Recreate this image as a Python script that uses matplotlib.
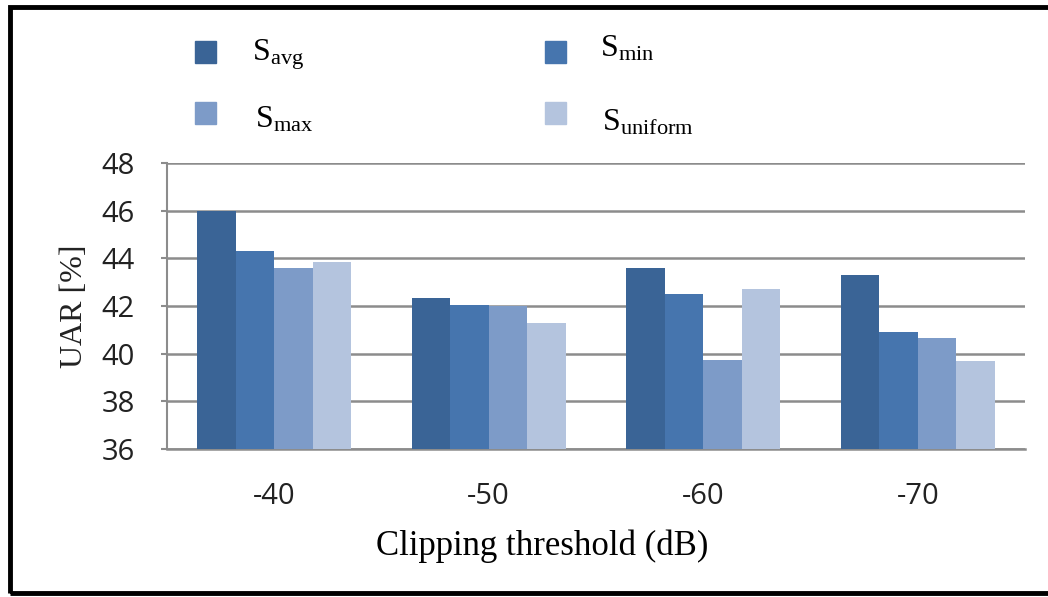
import matplotlib
matplotlib.use("Agg")
import matplotlib.pyplot as plt
import numpy as np
from matplotlib.patches import Rectangle

categories = ["-40", "-50", "-60", "-70"]
s_avg = [46.0, 42.35, 43.6, 43.3]
s_min = [44.3, 42.05, 42.5, 40.9]
s_max = [43.6, 42.0, 39.75, 40.65]
s_uniform = [43.85, 41.3, 42.7, 39.7]
series_labels = ["avg", "min", "max", "uniform"]
colors = ["#3A6496", "#4675AE", "#7D9BC8", "#B4C4DE"]
yticks = [36, 38, 40, 42, 44, 46, 48]

plt.rcParams['mathtext.fontset'] = 'custom'
plt.rcParams['mathtext.rm'] = 'Liberation Serif'
plt.rcParams['mathtext.it'] = 'Liberation Serif:italic'

W, H = 1048, 597
fig = plt.figure(figsize=(W/100, H/100), dpi=100)
ax = fig.add_axes([167/W, 1-449/H, (1025-167)/W, (449-163)/H])

x = np.arange(len(categories))
bw = 0.18
series = [s_avg, s_min, s_max, s_uniform]
for i, (vals, c) in enumerate(zip(series, colors)):
    ax.bar(x + (i - 1.5)*bw, np.array(vals) - 36, bottom=36, width=bw,
           color=c, zorder=3, edgecolor='none')

ax.set_ylim(36, 48)
ax.set_xlim(-0.5, 3.5)
ax.set_yticks(yticks)
ax.set_yticklabels([str(t) for t in yticks], fontsize=21, family='Open Sans', color='#222222')
ax.set_xticks(x)
ax.set_xticklabels(categories, fontsize=21, family='Open Sans', color='#222222')
ax.tick_params(axis='x', length=0, pad=24)
ax.tick_params(axis='y', length=4, color='#8C8C8C', width=1.5, pad=19)
ax.grid(axis='y', color='#8C8C8C', linewidth=1.8, zorder=0)
for s in ['top', 'right']:
    ax.spines[s].set_visible(False)
ax.spines['left'].set_color('#8C8C8C')
ax.spines['left'].set_linewidth(1.5)
ax.spines['bottom'].set_color('#8C8C8C')
ax.spines['bottom'].set_linewidth(1.8)

ax.set_xlabel("Clipping threshold (dB)", fontsize=25, family='Liberation Serif', labelpad=12)
ax.xaxis.set_label_coords((542 - 167) / (1025 - 167), -0.28)
ax.set_ylabel("UAR [%]", fontsize=23, family='Liberation Serif', labelpad=9, color='#222222')

# legend
sq = [(205, 52), (555, 52), (205, 113), (555, 113)]
txt = [(252, 55), (600, 49), (255, 120), (602, 123)]
for k in range(4):
    px, py = sq[k]
    fig.patches.append(Rectangle((px/W - 10.5/W, 1 - py/H - 10.5/H), 21/W, 21/H,
                                 transform=fig.transFigure, color=colors[k]))
    tx, ty = txt[k]
    fig.text(tx/W, 1 - ty/H, r"S$_{\mathrm{%s}}$" % series_labels[k],
             fontsize=23, family='Liberation Serif', va='center', ha='left')

# outer frame
fig.patches.append(Rectangle((10/W, 1 - 593/H), 1.2, (593-7)/H, transform=fig.transFigure,
                             fill=False, edgecolor='black', linewidth=3.5))

fig.savefig("out.png", dpi=100)
